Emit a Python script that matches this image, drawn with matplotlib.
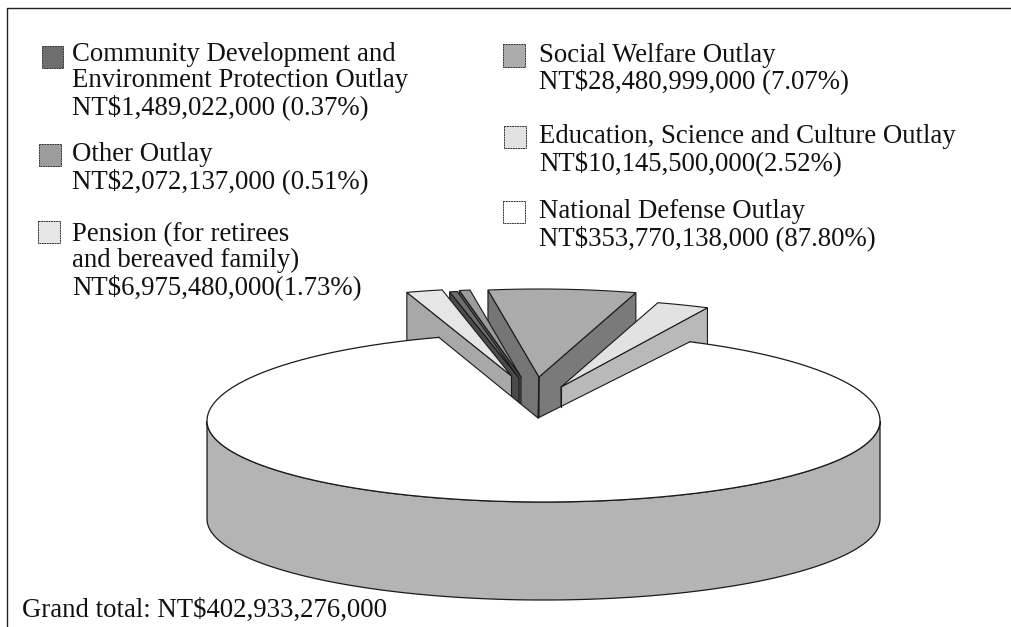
import numpy as np
import matplotlib
matplotlib.use("Agg")
import matplotlib.pyplot as plt
from matplotlib.patches import Polygon, Rectangle

# ---- data (clockwise around the pie, starting at the National Defense slice's end)
slice_names = ["Education", "Social", "Other", "Community", "Pension"]
slice_percents = [2.52, 7.07, 0.51, 0.37, 1.73]
defense_percent = 87.80

legend_col1 = [
    ["Community Development and", "Environment Protection Outlay", "NT$1,489,022,000 (0.37%)"],
    ["Other Outlay", "NT$2,072,137,000 (0.51%)"],
    ["Pension (for retirees", "and bereaved family)", "NT$6,975,480,000(1.73%)"],
]
legend_col2 = [
    ["Social Welfare Outlay", "NT$28,480,999,000 (7.07%)"],
    ["Education, Science and Culture Outlay", "NT$10,145,500,000(2.52%)"],
    ["National Defense Outlay", "NT$353,770,138,000 (87.80%)"],
]
grand_total = "Grand total: NT$402,933,276,000"

# ---- styles / layout (pixels)
FONT = "Liberation Serif"
FS = 19.3
CX, CY, A, B_BACK, B_FRONT = 543.5, 421.0, 336.5, 88.0, 81.0
DEPTH = 98.0
START = 64.2
apex_main = (-5.5, -3.0)
apex = {"Education": (17.5, -34), "Social": (-4.5, -44), "Other": (-22.5, -44),
        "Community": (-24.5, -43), "Pension": (-32, -45)}
top_col = {"Education": "#e2e2e2", "Social": "#ababab", "Other": "#9c9c9c",
           "Community": "#6e6e6e", "Pension": "#e6e6e6"}
left_col = {"Social": "#757575", "Other": "#5a5a5a", "Community": "#4a4a4a", "Pension": "#a8a8a8"}
right_col = {"Education": "#b9b9b9", "Social": "#7a7a7a"}
SIDE = "#b4b4b4"
EDGE = "#1a1a1a"

fig = plt.figure(figsize=(10.12, 6.27), dpi=100)
ax = fig.add_axes([0, 0, 1, 1])
ax.set_xlim(0, 1012)
ax.set_ylim(627, 0)
ax.axis("off")


def ell(t_deg, cx=CX, cy=CY, b=None):
    t = np.radians(t_deg)
    s = np.sin(t)
    bb = np.where(s >= 0, B_BACK, B_FRONT) if b is None else b
    return np.column_stack([cx + A * np.cos(t), cy - bb * s])


# exploded slices: back to front so each covers the previous one's walls
angle = START
spans = {}
for name, pct in zip(slice_names, slice_percents):
    spans[name] = (angle, angle + pct * 3.6)
    angle += pct * 3.6
end_angle = angle

for name in ["Social", "Other", "Community", "Pension", "Education"]:
    t0, t1 = spans[name]
    ox, oy = apex[name]
    ap = np.array([CX + ox, CY + oy])
    cx, cy = ap
    outer = ell(np.linspace(t0, t1, 30), cx=cx, cy=cy, b=B_BACK)
    dn = np.array([0, 75.0])
    if t1 > 90 and name in left_col:
        p = outer[-1]
        ax.add_patch(Polygon([ap, p, p + dn, ap + dn], fc=left_col[name], ec=EDGE, lw=0.8, zorder=3))
    if t0 < 90 and name in right_col:
        p = outer[0]
        ax.add_patch(Polygon([ap, p, p + dn, ap + dn], fc=right_col[name], ec=EDGE, lw=0.8, zorder=3))
    ax.add_patch(Polygon(np.vstack([ap, outer]), fc=top_col[name], ec=EDGE, lw=0.8, zorder=3))

# main slice: front wall, then top (hides the lower part of the walls above)
front = ell(np.linspace(180, 360, 200))
wall = np.vstack([front, (front + [0, DEPTH])[::-1]])
ax.add_patch(Polygon(wall, fc=SIDE, ec=EDGE, lw=0.9, zorder=2))

arc = ell(np.linspace(end_angle, START + 360, 500))
main_apex = [CX + apex_main[0], CY + apex_main[1]]
ax.add_patch(Polygon(np.vstack([main_apex, arc]), fc="white", ec="none", zorder=4))
ax.plot(arc[:, 0], arc[:, 1], color=EDGE, lw=0.9, zorder=5)
ax.plot([arc[0, 0], main_apex[0], arc[-1, 0]], [arc[0, 1], main_apex[1], arc[-1, 1]],
        color=EDGE, lw=0.8, zorder=5)
# drop-lines at the apex and walls
ax.plot([CX + apex["Social"][0], main_apex[0]], [CY + apex["Social"][1], main_apex[1]], color=EDGE, lw=0.8, zorder=5)
ax.plot([CX + apex["Education"][0], CX + apex["Education"][0]],
        [CY + apex["Education"][1], CY - 14], color=EDGE, lw=0.8, zorder=5)

# frame
ax.plot([7, 7, 1012], [627, 8, 8], color="#222222", lw=1.0, zorder=1)


def legend_block(x, baselines, lines):
    for y, s in zip(baselines, lines):
        ax.text(x, y, s, family=FONT, fontsize=FS, color="#111111", ha="left", va="baseline")


swatches = [
    (42, 46, 21, 22, "#6e6e6e"), (39, 144, 22, 22, "#9c9c9c"), (38, 221, 22, 22, "#e6e6e6"),
    (503, 44, 22, 23, "#ababab"), (504, 126, 22, 22, "#e2e2e2"), (503, 201, 22, 22, "white"),
]
for (x, y, w, h, c) in swatches:
    ax.add_patch(Rectangle((x, y), w, h, fc=c, ec="#333333", lw=0.7, ls=(0, (2, 0.6))))

legend_block(72, [61, 87, 114], legend_col1[0])
legend_block(72, [161, 188], legend_col1[1])
legend_block(72, [241, 267, 294], legend_col1[2])
legend_block(539, [62, 88], legend_col2[0])
legend_block(539, [143, 170], legend_col2[1])
legend_block(539, [218, 245], legend_col2[2])
ax.text(22, 617, grand_total, family=FONT, fontsize=FS, color="#111111", ha="left", va="baseline")

fig.savefig("out.png", dpi=100, facecolor="white")
